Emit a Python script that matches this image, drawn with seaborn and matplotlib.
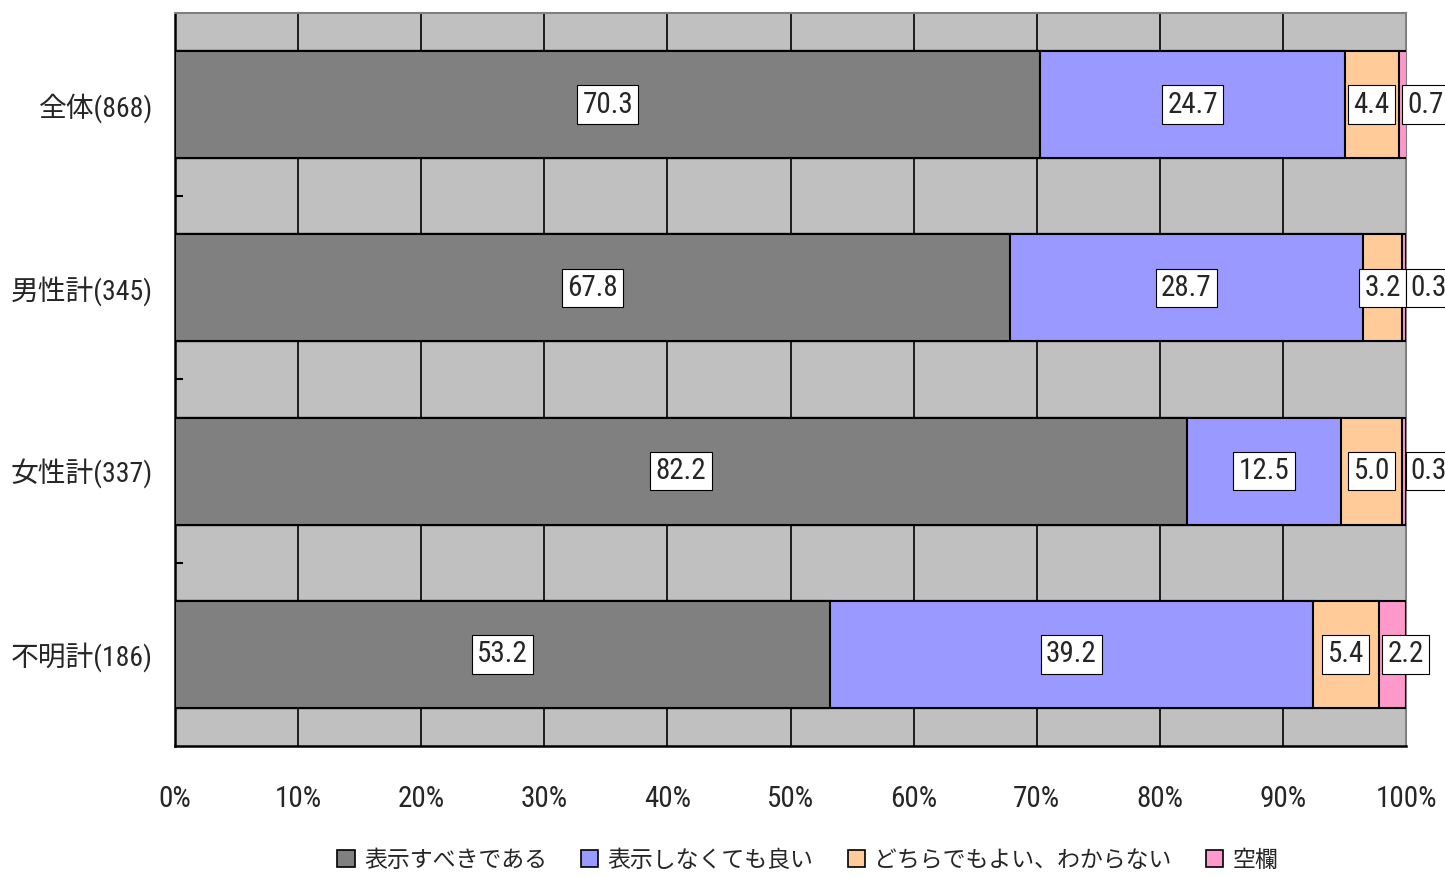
import numpy as np
import pandas as pd
import matplotlib
matplotlib.use("Agg")
import matplotlib.pyplot as plt
import seaborn as sns
from matplotlib import font_manager
from matplotlib.patches import Patch
from matplotlib.ticker import FixedLocator

# data (percent)
groups = ["全体(868)", "男性計(345)", "女性計(337)", "不明計(186)"]
answers = ["表示すべきである", "表示しなくても良い", "どちらでもよい、わからない", "空欄"]
must_show = [70.3, 67.8, 82.2, 53.2]
need_not = [24.7, 28.7, 12.5, 39.2]
either = [4.4, 3.2, 5.0, 5.4]
blank = [0.7, 0.3, 0.3, 2.2]
xticks = [0, 10, 20, 30, 40, 50, 60, 70, 80, 90, 100]

colors = ["#808080", "#9999FF", "#FFCC99", "#FF99CC"]

sns.set_theme(style="white")
# prefer a narrow latin face if one is installed, CJK as fallback
installed = {f.name for f in font_manager.fontManager.ttflist}
narrow = [n for n in ["Liberation Sans Narrow", "DejaVu Sans Condensed", "Roboto Condensed",
                      "Open Sans Condensed"] if n in installed]
fam = narrow[:1] + ["Noto Sans CJK JP", "DejaVu Sans"]
plt.rcParams["font.family"] = fam

df = pd.DataFrame({"group": groups, answers[0]: must_show, answers[1]: need_not,
                   answers[2]: either, answers[3]: blank})
vals = df[answers].to_numpy()
cum = np.cumsum(vals, axis=1)
starts = cum - vals

fig = plt.figure(figsize=(14.45, 8.77), dpi=100)
ax = fig.add_axes([0.1211, 0.1494, 0.852, 0.8358])
ax.set_facecolor("#C0C0C0")

# stacked bars: draw cumulative layers from the outermost inward
for k in range(len(answers) - 1, -1, -1):
    layer = pd.DataFrame({"group": groups, "x": cum[:, k]})
    sns.barplot(data=layer, x="x", y="group", orient="h", color=colors[k],
                saturation=1, width=0.585, edgecolor="black", linewidth=1.5,
                ax=ax, zorder=3)

# value labels
lab_fs = 21
for i in range(len(groups)):
    for k in range(len(answers)):
        v = vals[i, k]
        box = dict(boxstyle="square,pad=0.18", fc="white", ec="black", lw=0.8)
        if k == len(answers) - 1:
            ax.annotate(f"{v:.1f}", xy=(starts[i, k], i), xytext=(6, 0),
                        textcoords="offset points", ha="left", va="center",
                        fontsize=lab_fs, bbox=box, zorder=5, annotation_clip=False)
        else:
            ax.text(starts[i, k] + v / 2, i, f"{v:.1f}", ha="center", va="center",
                    fontsize=lab_fs, bbox=box, zorder=5)

ax.set_xlim(0, 100)
ax.set_ylim(3.5, -0.5)
ax.set_xticks(xticks)
ax.set_xticklabels([f"{t}%" for t in xticks])
ax.xaxis.grid(True, color="black", lw=1.2, zorder=0)
ax.set_axisbelow(True)
ax.set_xlabel("")
ax.set_ylabel("")
ax.tick_params(axis="x", length=0, pad=28, labelsize=21)
ax.tick_params(axis="y", length=0, pad=16, labelsize=20)
ax.yaxis.set_minor_locator(FixedLocator([0.5, 1.5, 2.5]))
ax.tick_params(axis="y", which="minor", direction="in", length=6, width=1.5,
               color="black", left=True)

for s in ["left", "bottom"]:
    ax.spines[s].set_color("black")
    ax.spines[s].set_linewidth(1.8)
for s in ["top", "right"]:
    ax.spines[s].set_color("#808080")
    ax.spines[s].set_linewidth(1.5)

handles = [Patch(facecolor=c, edgecolor="black", lw=1.2) for c in colors]
fig.legend(handles, answers, loc="center", bbox_to_anchor=(0.559, 0.019), ncol=4,
           frameon=False, fontsize=16.5, handlelength=0.75, handleheight=0.75,
           handletextpad=0.4, columnspacing=1.5)

fig.savefig("out.png", dpi=100)
